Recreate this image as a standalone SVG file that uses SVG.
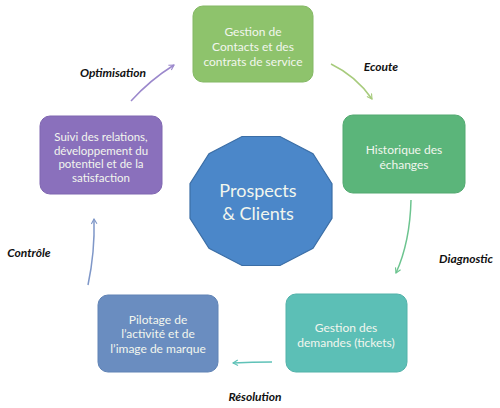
<svg xmlns="http://www.w3.org/2000/svg" width="500" height="408" viewBox="0 0 500 408">
<defs>
<style>
.box{stroke-width:1}
.nt{font-family:Lato,"Open Sans","Liberation Sans",sans-serif;font-size:12px;fill:#F2F6EE;text-anchor:middle}
.sm{font-size:11.5px}
.lb{font-family:Lato,"Liberation Sans",sans-serif;font-size:12px;font-weight:bold;font-style:italic;fill:#111;text-anchor:middle}
.cn{fill:none;stroke-width:1.5}
</style>
<marker id="ah" viewBox="0 0 10 10" refX="8" refY="5" markerWidth="7" markerHeight="7" orient="auto" markerUnits="userSpaceOnUse">
<path d="M1,1 L8,5 L1,9" fill="none" stroke="context-stroke" stroke-width="1.6"/>
</marker>
</defs>
<rect width="500" height="408" fill="#fff"/>

<g id="center">
<polygon points="332,183.7 313,153.8 280,136.5 242,136.5 209,153.8 190,183.7 190,218.3 209,248.2 242,265.5 280,265.5 313,248.2 332,218.3" fill="#4B87C9" stroke="#3B6EA6" stroke-width="1.2"/>
<text class="nt" style="font-size:18px" x="258" y="197">Prospects</text>
<text class="nt" style="font-size:18px" x="258" y="220">&amp; Clients</text>
</g>

<g id="n1">
<rect class="box" x="193" y="6" width="120" height="76" rx="10" fill="#8EC36C" stroke="#84B864"/>
<text class="nt" x="253" y="36">Gestion de</text>
<text class="nt" x="253" y="51">Contacts et des</text>
<text class="nt" x="253" y="66">contrats de service</text>
</g>

<g id="n2">
<rect class="box" x="343" y="115" width="122" height="78" rx="10" fill="#5BB57A" stroke="#52A970"/>
<text class="nt" x="404" y="154">Historique des</text>
<text class="nt" x="404" y="169">échanges</text>
</g>

<g id="n3">
<rect class="box" x="286" y="294" width="121" height="78" rx="10" fill="#5CBFB6" stroke="#52B2A9"/>
<text class="nt" x="346" y="332">Gestion des</text>
<text class="nt" x="346" y="347">demandes (tickets)</text>
</g>

<g id="n4">
<rect class="box" x="98" y="295" width="120" height="77" rx="10" fill="#6A8DC0" stroke="#6083B5"/>
<text class="nt" x="158" y="324">Pilotage de</text>
<text class="nt" x="158" y="338">l’activité et de</text>
<text class="nt" x="158" y="353">l’image de marque</text>
</g>

<g id="n5">
<rect class="box" x="40" y="116" width="122" height="78" rx="10" fill="#8A70BC" stroke="#7F66B0"/>
<text class="nt sm" x="101" y="141">Suivi des relations,</text>
<text class="nt sm" x="101" y="154.5">développement du</text>
<text class="nt sm" x="101" y="168">potentiel et de la</text>
<text class="nt sm" x="101" y="181.5">satisfaction</text>
</g>

<g id="connectors">
<path class="cn" d="M331,64 Q356,76 372,99" stroke="#A7CB7C" marker-end="url(#ah)"/>
<path class="cn" d="M411,200 Q410,242 396,273" stroke="#6CC48F" marker-end="url(#ah)"/>
<path class="cn" d="M272,362 Q252,362 233,363" stroke="#5FC2B8" marker-end="url(#ah)"/>
<path class="cn" d="M88,285 Q95,252 94,219" stroke="#7F97C8" marker-end="url(#ah)"/>
<path class="cn" d="M131,101 Q150,80 174,65" stroke="#9B88CC" marker-end="url(#ah)"/>
</g>

<g id="labels">
<text class="lb" x="113" y="77">Optimisation</text>
<text class="lb" x="381" y="71">Ecoute</text>
<text class="lb" x="466" y="263">Diagnostic</text>
<text class="lb" x="255" y="401">Résolution</text>
<text class="lb" x="29" y="257">Contrôle</text>
</g>
</svg>
